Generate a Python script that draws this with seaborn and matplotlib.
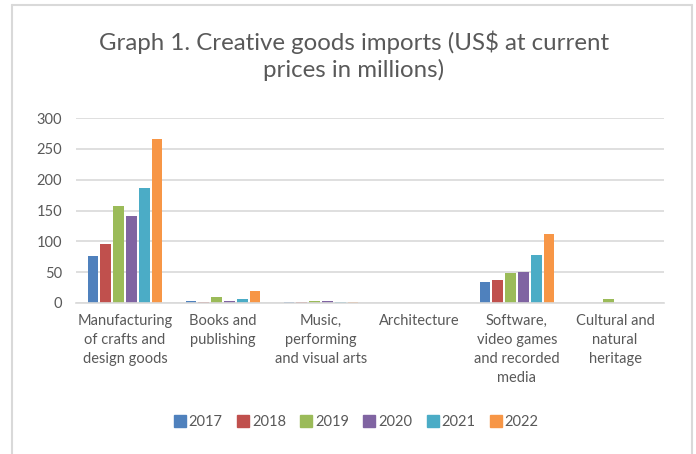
import matplotlib
matplotlib.use("Agg")
import matplotlib.pyplot as plt
from matplotlib.lines import Line2D
import seaborn as sns
import pandas as pd

categories = [
    "Manufacturing\nof crafts and\ndesign goods",
    "Books and\npublishing",
    "Music,\nperforming\nand visual arts",
    "Architecture",
    "Software,\nvideo games\nand recorded\nmedia",
    "Cultural and\nnatural\nheritage",
]
years = ["2017", "2018", "2019", "2020", "2021", "2022"]

# imports per category, US$ millions, one list per year
v2017 = [76, 3, 1, 0, 34, 0]
v2018 = [95, 1.5, 1.5, 0, 37, 0]
v2019 = [157, 10, 2.5, 0, 49, 6.5]
v2020 = [141, 3, 3, 0, 50, 0]
v2021 = [187, 7, 2, 0, 78, 0]
v2022 = [266, 19.5, 2, 0, 112, 0]

colors = ["#4F81BD", "#C0504D", "#9BBB59", "#8064A2", "#4BACC6", "#F79646"]
text_color = "#595959"
grid_color = "#D9D9D9"

series = [v2017, v2018, v2019, v2020, v2021, v2022]
rows = []
for yr, vals in zip(years, series):
    for cat, v in zip(categories, vals):
        rows.append({"category": cat, "year": yr, "value": v})
df = pd.DataFrame(rows)

sns.set_theme(style="white")
plt.rcParams["font.family"] = ["Lato", "DejaVu Sans"]

fig = plt.figure(figsize=(6.96, 4.54), dpi=100)
ax = fig.add_axes([76 / 696, 1 - 303 / 454, 588 / 696, 185 / 454])

sns.barplot(data=df, x="category", y="value", hue="year", order=categories,
            hue_order=years, palette=colors, saturation=1, width=0.79, gap=0.2,
            linewidth=0, ax=ax, legend=False)

ax.set_ylim(0, 300)
ax.set_yticks(range(0, 301, 50))
ax.set_xlim(-0.5, len(categories) - 0.5)
ax.yaxis.grid(True, color=grid_color, linewidth=1.2)
ax.set_axisbelow(True)
for s in ["top", "right", "left"]:
    ax.spines[s].set_visible(False)
ax.spines["bottom"].set_color(grid_color)
ax.spines["bottom"].set_linewidth(1.2)
ax.set_xlabel("")
ax.set_ylabel("")
ax.tick_params(axis="y", length=0, pad=10, labelsize=10.5, labelcolor=text_color)
ax.tick_params(axis="x", length=0, pad=8, labelsize=10.5, labelcolor=text_color)
for lab in ax.get_xticklabels():
    lab.set_linespacing(1.45)

title_kw = dict(ha="center", va="center", fontsize=17.3, color=text_color)
fig.text(0.508, 1 - 42 / 454, "Graph 1. Creative goods imports (US$ at current", **title_kw)
fig.text(0.508, 1 - 70 / 454, "prices in millions)", **title_kw)

handles = [Line2D([0], [0], marker="s", linestyle="", markersize=9,
                  markerfacecolor=c, markeredgecolor=c) for c in colors]
fig.legend(handles, years, loc="center", bbox_to_anchor=(0.512, 1 - 422 / 454),
           ncol=6, frameon=False, fontsize=10.5, labelcolor=text_color,
           handlelength=0.8, handletextpad=0.2, columnspacing=1.0)

# chart frame (left, top, right edges)
frame_kw = dict(color=grid_color, linewidth=1.5, transform=fig.transFigure)
fig.add_artist(Line2D([12 / 696, 12 / 696], [0, 1 - 5 / 454], **frame_kw))
fig.add_artist(Line2D([12 / 696, 692 / 696], [1 - 5 / 454, 1 - 5 / 454], **frame_kw))
fig.add_artist(Line2D([692 / 696, 692 / 696], [0, 1 - 5 / 454], **frame_kw))

fig.savefig("out.png", dpi=100)
